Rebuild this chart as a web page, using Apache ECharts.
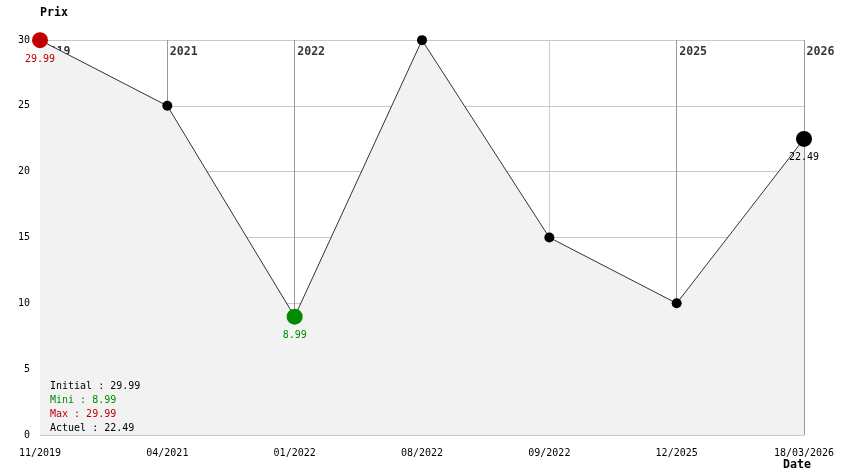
<!DOCTYPE html>
<html><head><meta charset="utf-8">
<script src="https://cdn.jsdelivr.net/npm/echarts@6/dist/echarts.min.js"></script>
<style>html,body{margin:0;padding:0;background:#fff}#c{width:844px;height:474px}</style>
</head><body><div id="c"></div>
<script>
const categories = ['11/2019','04/2021','01/2022','08/2022','09/2022','12/2025','18/03/2026'];
const prices = [29.99, 25, 8.99, 29.99, 15, 10, 22.49];
const yearIdx = [0, 1, 2, 5, 6];
const yearLabels = ['2019', '2021', '2022', '2025', '2026'];
const yMin = 0, yMax = 30, yStep = 5;

const FONT = '"DejaVu Sans Mono", monospace';
const BOLD = 11.6;
const RED = '#c00000', GREEN = '#008c00';
const maxV = Math.max(...prices), minV = Math.min(...prices);
const iMax = prices.indexOf(maxV), iMin = prices.indexOf(minV), iLast = prices.length - 1;
const initV = prices[0], lastV = prices[iLast];

const seriesData = prices.map((v, i) => {
  let color = '#000', size = 10, label = {show: false};
  if (i === iMax) { color = RED; size = 16; label = {show: true, color: RED}; }
  else if (i === iMin) { color = GREEN; size = 16; label = {show: true, color: GREEN}; }
  else if (i === iLast) { color = '#000'; size = 16; label = {show: true, color: '#000'}; }
  return {value: v, symbolSize: size, itemStyle: {color: color}, label: label};
});

const chart = echarts.init(document.getElementById('c'), null, {renderer: 'canvas'});
chart.setOption({
  animation: false,
  backgroundColor: '#fff',
  textStyle: {fontFamily: FONT},
  grid: {left: 40, right: 40, top: 40, bottom: 39, containLabel: false},
  title: [
    {text: 'Prix', left: 35, top: 2, textStyle: {fontFamily: FONT, fontSize: BOLD, fontWeight: 'bold', color: '#000'}},
    {text: 'Date', left: 778, top: 454, textStyle: {fontFamily: FONT, fontSize: BOLD, fontWeight: 'bold', color: '#000'}},
    {
      text: '{k|Initial : ' + initV + '}\n{g|Mini : ' + minV + '}\n{r|Max : ' + maxV + '}\n{k|Actuel : ' + lastV + '}',
      left: 45, top: 374,
      textStyle: {
        fontFamily: FONT, fontSize: 10, fontWeight: 'normal', lineHeight: 14,
        rich: {
          k: {color: '#000', fontFamily: FONT, fontSize: 10, lineHeight: 14},
          g: {color: GREEN, fontFamily: FONT, fontSize: 10, lineHeight: 14},
          r: {color: RED, fontFamily: FONT, fontSize: 10, lineHeight: 14}
        }
      }
    }
  ],
  xAxis: {
    type: 'category', data: categories, boundaryGap: false,
    axisLine: {show: false}, axisTick: {show: false},
    axisLabel: {fontFamily: FONT, fontSize: 10, color: '#000', margin: 13, interval: 0},
    splitLine: {show: true, lineStyle: {color: '#cccccc', width: 1}}
  },
  yAxis: {
    type: 'value', min: yMin, max: yMax, interval: yStep,
    axisLine: {show: false}, axisTick: {show: false},
    axisLabel: {fontFamily: FONT, fontSize: 10, color: '#000', margin: 10},
    splitLine: {show: true, lineStyle: {color: '#c8c8c8', width: 1}}
  },
  series: [
    {
      type: 'scatter', z: 1, silent: true, symbolSize: 1,
      itemStyle: {color: 'rgba(0,0,0,0)'},
      data: yearIdx.map((idx, k) => ({value: [categories[idx], yMax], name: yearLabels[k]})),
      label: {
        show: true, position: [3, 6], align: 'left', verticalAlign: 'top',
        formatter: p => p.name, fontFamily: FONT, fontSize: BOLD, fontWeight: 'bold', color: '#000'
      },
      markLine: {
        z: 1,
        silent: true, symbol: ['none', 'none'], animation: false,
        label: {show: false},
        lineStyle: {color: '#999999', width: 1, type: 'solid'},
        emphasis: {disabled: true},
        data: yearIdx.map(idx => ({xAxis: categories[idx]}))
      }
    },
    {
      type: 'line', z: 3, data: seriesData,
      symbol: 'circle',
      lineStyle: {color: '#333', width: 1},
      areaStyle: {color: '#f2f2f2', opacity: 1},
      label: {position: 'bottom', distance: 6, fontFamily: FONT, fontSize: 10},
      emphasis: {disabled: true}
    }
  ]
});
</script>
</body></html>
